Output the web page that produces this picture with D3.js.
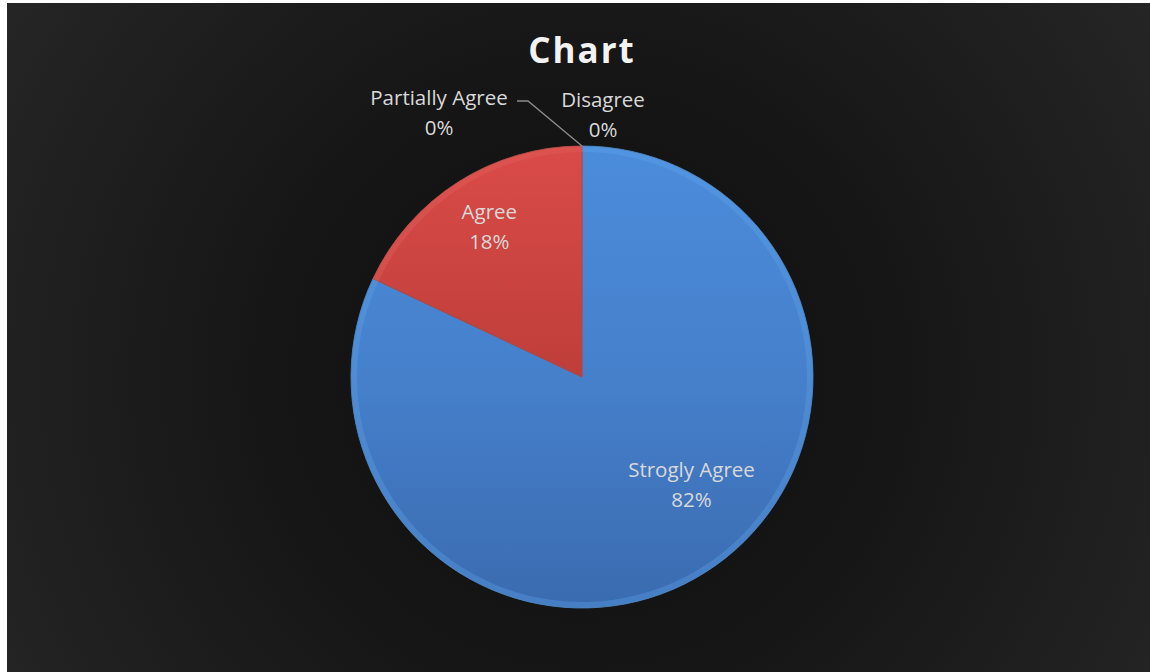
<!DOCTYPE html>
<html><head><meta charset="utf-8">
<script src="https://cdn.jsdelivr.net/npm/d3@7"></script>
<style>
html,body{margin:0;padding:0;background:#fff;}
svg{display:block;}
</style>
</head><body>
<svg id="c" width="1150" height="672"></svg>
<script>
const categories = ["Strogly Agree", "Agree", "Partially Agree", "Disagree"];
const values = [82, 18, 0, 0];
const title = "Chart";

const W = 1150, H = 672;
const svg = d3.select("#c");
const defs = svg.append("defs");

const bg = defs.append("radialGradient").attr("id","bg")
  .attr("gradientUnits","userSpaceOnUse").attr("cx",582).attr("cy",377).attr("r",700);
bg.append("stop").attr("offset","0").attr("stop-color","#0e0e0e");
bg.append("stop").attr("offset","0.45").attr("stop-color","#161616");
bg.append("stop").attr("offset","1").attr("stop-color","#262626");

svg.append("rect").attr("x",7).attr("y",3).attr("width",W-7).attr("height",H-3).attr("fill","url(#bg)");

const cx = 582, cy = 377, R = 231;

function lin(id, c1, cm, c2){
  const g = defs.append("linearGradient").attr("id",id)
    .attr("gradientUnits","userSpaceOnUse").attr("x1",0).attr("y1",-R).attr("x2",0).attr("y2",R);
  g.append("stop").attr("offset","0").attr("stop-color",c1);
  g.append("stop").attr("offset","0.5").attr("stop-color",cm);
  g.append("stop").attr("offset","1").attr("stop-color",c2);
}
lin("gBlue","#4b8cdb","#4680cb","#3a6bb0");
lin("gRed","#d94b48","#bf3e3a","#a8332f");
lin("gGreen","#9bbb59","#88a84a","#76923c");
lin("gPurple","#8064a2","#70588e","#5f497a");
const fills = ["url(#gBlue)","url(#gRed)","url(#gGreen)","url(#gPurple)"];
const rims = ["#5fa2ec","#e4625e","#aecb6e","#9880b8"];

const total = d3.sum(values);
const pie = d3.pie().sort(null).value(d=>d.v);
const arcs = pie(categories.map((c,i)=>({c, v:values[i], i})));

const g = svg.append("g").attr("transform",`translate(${cx},${cy})`);
const arc = d3.arc().innerRadius(0).outerRadius(R);
const rimArc = d3.arc().innerRadius(R-6).outerRadius(R);

g.selectAll("path.s").data(arcs.filter(a=>a.data.v>0)).join("path")
  .attr("class","s").attr("d",arc).attr("fill",d=>fills[d.data.i])
  .attr("stroke",d=>d3.color(rims[d.data.i]).darker(0.8)).attr("stroke-width",1);
g.selectAll("path.r").data(arcs.filter(a=>a.data.v>0)).join("path")
  .attr("class","r").attr("d",rimArc).attr("fill",d=>rims[d.data.i]).attr("opacity",0.35);

const labelPlace = [
  {da:-13.5, rf:0.66},
  {da:1, rf:0.77},
  {x:-143, y:-266},
  {x:21, y:-264}
];
const fmt = d=> Math.round(d.data.v/total*100) + "%";
const lbl = svg.append("g").attr("font-family","'Open Sans', 'Noto Sans', sans-serif").attr("font-size",20.5).attr("fill","#d9d9d9").attr("text-anchor","middle");
arcs.forEach((d,i)=>{
  const p = labelPlace[i];
  let x, y;
  if (p.x !== undefined){ x = cx + p.x; y = cy + p.y; }
  else {
    const a = (d.startAngle + d.endAngle)/2 + p.da*Math.PI/180;
    x = cx + Math.sin(a)*R*p.rf; y = cy - Math.cos(a)*R*p.rf;
  }
  const t = lbl.append("text").attr("x",x).attr("y",y);
  t.append("tspan").attr("x",x).attr("dy","-0.3em").text(d.data.c);
  t.append("tspan").attr("x",x).attr("dy","1.45em").text(fmt(d));
});
svg.append("path").attr("d",`M${cx-65},${cy-276}L${cx-54},${cy-276}L${cx},${cy-R}`)
  .attr("fill","none").attr("stroke","#8c8c8c").attr("stroke-width",1.3);

svg.append("text").attr("x",582).attr("y",63).attr("text-anchor","middle")
  .attr("font-family","'Open Sans', 'Noto Sans', sans-serif").attr("font-weight","bold")
  .attr("font-size",35).attr("letter-spacing",2).attr("fill","#f2f2f2").text(title);
</script>
</body></html>
